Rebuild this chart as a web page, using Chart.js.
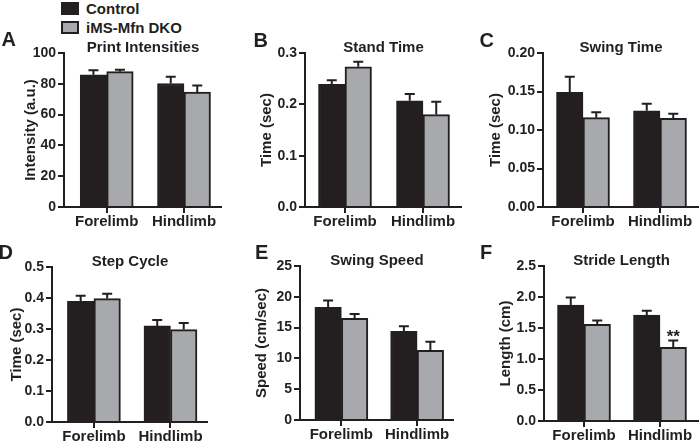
<!DOCTYPE html>
<html>
<head>
<meta charset="utf-8">
<script src="https://cdn.jsdelivr.net/npm/chart.js@4.4.1/dist/chart.umd.min.js"></script>
<style>
  html, body { margin: 0; padding: 0; background: #fff; }
  #wrap { position: relative; width: 700px; height: 448px; overflow: hidden;
          font-family: 'Liberation Sans', Arial, sans-serif; font-weight: bold; color: #231f20; }
  #wrap canvas { position: absolute; }
  .letter { position: absolute; font-size: 20px; line-height: 20px; }
  .key { position: absolute; left: 61px; width: 18px; height: 13px; box-sizing: border-box; }
  .keytext { position: absolute; left: 86px; font-size: 15px; line-height: 15px; white-space: nowrap; }
</style>
</head>
<body>
<div id="wrap">
  <div class="key" style="top:2px; background:#231f20;"></div>
  <div class="keytext" id="key0" style="top:1px;"></div>
  <div class="key" style="top:21px; background:#a7a9ac; border:2px solid #231f20;"></div>
  <div class="keytext" id="key1" style="top:20px;"></div>
</div>
<script>
let limbs = ['Forelimb', 'Hindlimb'];
let groups = ['Control', 'iMS-Mfn DKO'];

// A - print intensities
let intensityCtrl = [85.8, 80.2];
let intensityCtrlErr = [3.0, 4.3];
let intensityDko = [87.9, 74.6];
let intensityDkoErr = [1.3, 4.3];
let intensityTicks = ['0', '20', '40', '60', '80', '100'];

// B - stand time
let standCtrl = [0.239, 0.207];
let standCtrlErr = [0.008, 0.013];
let standDko = [0.273, 0.180];
let standDkoErr = [0.010, 0.025];
let standTicks = ['0.0', '0.1', '0.2', '0.3'];

// C - swing time
let swingCtrl = [0.149, 0.125];
let swingCtrlErr = [0.020, 0.009];
let swingDko = [0.116, 0.115];
let swingDkoErr = [0.007, 0.006];
let swingTicks = ['0.00', '0.05', '0.10', '0.15', '0.20'];

// D - step cycle
let stepCtrl = [0.389, 0.310];
let stepCtrlErr = [0.018, 0.019];
let stepDko = [0.398, 0.298];
let stepDkoErr = [0.016, 0.021];
let stepTicks = ['0.0', '0.1', '0.2', '0.3', '0.4', '0.5'];

// E - swing speed
let speedCtrl = [18.3, 14.4];
let speedCtrlErr = [1.1, 0.8];
let speedDko = [16.5, 11.3];
let speedDkoErr = [0.7, 1.4];
let speedTicks = ['0', '5', '10', '15', '20', '25'];

// F - stride length
let strideCtrl = [1.87, 1.71];
let strideCtrlErr = [0.12, 0.07];
let strideDko = [1.56, 1.19];
let strideDkoErr = [0.06, 0.11];
let strideDkoMarks = ['', '**'];
let strideTicks = ['0.0', '0.5', '1.0', '1.5', '2.0', '2.5'];

const ink = '#231f20';
const grey = '#a7a9ac';
const axisWidth = 60;

let panels = [
  { letter: 'A', title: 'Print Intensities', yTitle: 'Intensity (a.u.)', ticks: intensityTicks,
    ctrl: intensityCtrl, ctrlErr: intensityCtrlErr, dko: intensityDko, dkoErr: intensityDkoErr,
    x0: 64, top: 52.5, bottom: 207, right: 222, c1: 106.7, c2: 184, titleX: 31, lx: 1.5, ly: 29 },
  { letter: 'B', title: 'Stand Time', yTitle: 'Time (sec)', ticks: standTicks,
    ctrl: standCtrl, ctrlErr: standCtrlErr, dko: standDko, dkoErr: standDkoErr,
    x0: 305, top: 52.7, bottom: 207.3, right: 462, c1: 345, c2: 423, titleX: 266.5, lx: 253.5, ly: 30 },
  { letter: 'C', title: 'Swing Time', yTitle: 'Time (sec)', ticks: swingTicks,
    ctrl: swingCtrl, ctrlErr: swingCtrlErr, dko: swingDko, dkoErr: swingDkoErr,
    x0: 543, top: 52.7, bottom: 206.7, right: 699, c1: 583, c2: 660, titleX: 496.3, lx: 479.5, ly: 30 },
  { letter: 'D', title: 'Step Cycle', yTitle: 'Time (sec)', ticks: stepTicks,
    ctrl: stepCtrl, ctrlErr: stepCtrlErr, dko: stepDko, dkoErr: stepDkoErr,
    x0: 52, top: 267.3, bottom: 421.7, right: 208.3, c1: 94, c2: 170.7, titleX: 17.3, lx: -1.5, ly: 242 },
  { letter: 'E', title: 'Swing Speed', yTitle: 'Speed (cm/sec)', ticks: speedTicks,
    ctrl: speedCtrl, ctrlErr: speedCtrlErr, dko: speedDko, dkoErr: speedDkoErr,
    x0: 299.5, top: 266.3, bottom: 420, right: 454, c1: 341, c2: 417, titleX: 262, lx: 255, ly: 242 },
  { letter: 'F', title: 'Stride Length', yTitle: 'Length (cm)', ticks: strideTicks,
    ctrl: strideCtrl, ctrlErr: strideCtrlErr, dko: strideDko, dkoErr: strideDkoErr, dkoMarks: strideDkoMarks,
    x0: 544, top: 266.3, bottom: 420.7, right: 699, c1: 584, c2: 660, titleX: 506, lx: 480, ly: 242 }
];

// error bars (upper SEM only) and significance stars
const errorBars = {
  id: 'errorBars',
  afterDatasetsDraw(chart) {
    let ctx = chart.ctx;
    let yScale = chart.scales.y;
    ctx.save();
    ctx.strokeStyle = ink;
    ctx.fillStyle = ink;
    ctx.lineWidth = 2;
    chart.data.datasets.forEach((ds, i) => {
      chart.getDatasetMeta(i).data.forEach((bar, j) => {
        let top = yScale.getPixelForValue(ds.data[j] + ds.errors[j]);
        ctx.beginPath();
        ctx.moveTo(bar.x, bar.y);
        ctx.lineTo(bar.x, top);
        ctx.moveTo(bar.x - 5, top);
        ctx.lineTo(bar.x + 5, top);
        ctx.stroke();
        if (ds.marks && ds.marks[j]) {
          ctx.font = 'bold 17px "Liberation Sans", Arial, sans-serif';
          ctx.textAlign = 'center';
          ctx.textBaseline = 'alphabetic';
          ctx.fillText(ds.marks[j], bar.x, top + 2);
        }
      });
    });
    ctx.restore();
  }
};

function makePanel(p) {
  let wrap = document.getElementById('wrap');
  let canvas = document.createElement('canvas');
  let left = Math.round(p.x0) - axisWidth;
  let top = Math.round(p.top) - 14;
  let width = axisWidth + (p.right - Math.round(p.x0));
  let height = (p.bottom - top) + 30;
  canvas.width = Math.round(width);
  canvas.height = Math.round(height);
  canvas.style.left = left + 'px';
  canvas.style.top = top + 'px';
  wrap.appendChild(canvas);

  let letter = document.createElement('div');
  letter.className = 'letter';
  letter.textContent = p.letter;
  letter.style.left = p.lx + 'px';
  letter.style.top = p.ly + 'px';
  wrap.appendChild(letter);

  let step = p.c2 - p.c1;
  let xMin = -(p.c1 - p.x0) / step;
  let xMax = 1 + (p.right - p.c2) / step;
  let yMax = parseFloat(p.ticks[p.ticks.length - 1]);
  let font = { family: "'Liberation Sans', Arial, sans-serif", weight: 'bold' };

  new Chart(canvas, {
    type: 'bar',
    data: {
      labels: limbs.map((l, i) => i),
      datasets: [{
        label: groups[0],
        data: p.ctrl,
        errors: p.ctrlErr,
        backgroundColor: ink,
        borderColor: ink,
        borderWidth: 2
      }, {
        label: groups[1],
        data: p.dko,
        errors: p.dkoErr,
        marks: p.dkoMarks,
        backgroundColor: grey,
        borderColor: ink,
        borderWidth: 2
      }]
    },
    options: {
      responsive: false,
      animation: false,
      devicePixelRatio: 1,
      barThickness: 26.5,
      layout: { padding: 0 },
      plugins: {
        legend: { display: false },
        tooltip: { enabled: false },
        title: {
          display: true,
          text: p.title,
          fullSize: false,
          color: ink,
          font: Object.assign({ size: 15 }, font),
          padding: { top: 0, bottom: -4 }
        }
      },
      scales: {
        x: {
          type: 'linear',
          min: xMin,
          max: xMax,
          offset: false,
          afterBuildTicks: s => { s.ticks = limbs.map((l, i) => ({ value: i })); },
          afterFit: s => { s.height = 30; },
          ticks: {
            callback: v => limbs[v],
            color: ink,
            font: Object.assign({ size: 15 }, font),
            padding: 0,
            autoSkip: false,
            maxRotation: 0
          },
          grid: { offset: false, drawOnChartArea: false, tickLength: 6, color: ink, lineWidth: 2 },
          border: { color: ink, width: 2 }
        },
        y: {
          min: 0,
          max: yMax,
          afterBuildTicks: s => { s.ticks = p.ticks.map(t => ({ value: parseFloat(t) })); },
          afterFit: s => { s.width = axisWidth; },
          ticks: {
            callback: (v, i) => p.ticks[i],
            color: ink,
            font: Object.assign({ size: 14 }, font),
            padding: 2
          },
          grid: { drawOnChartArea: false, tickLength: 6, color: ink, lineWidth: 2 },
          border: { color: ink, width: 2 },
          title: {
            display: true,
            text: p.yTitle,
            color: ink,
            font: Object.assign({ size: 15 }, font),
            padding: { top: p.titleX - left - 9, bottom: 0 }
          }
        }
      }
    },
    plugins: [errorBars]
  });
}

document.getElementById('key0').textContent = groups[0];
document.getElementById('key1').textContent = groups[1];
panels.forEach(makePanel);
</script>
</body>
</html>
